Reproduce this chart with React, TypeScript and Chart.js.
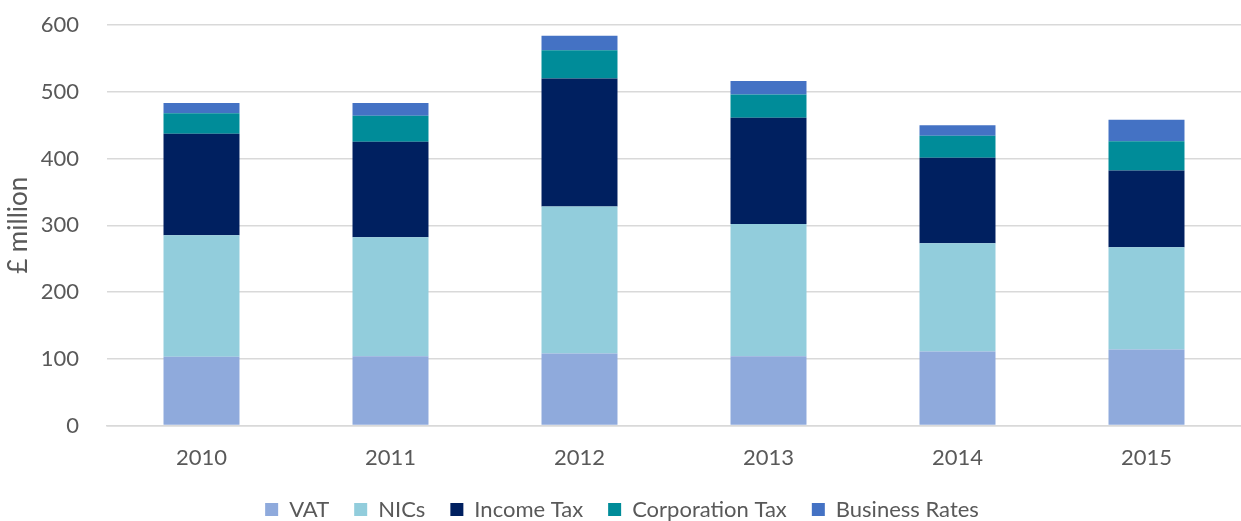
import React, { useEffect, useRef } from "react";
import { Chart, registerables } from "chart.js";

Chart.register(...registerables);

const years = ["2010", "2011", "2012", "2013", "2014", "2015"];
const vat = [103, 104, 108, 104, 111, 114];
const nics = [182, 178, 220, 198, 162, 153];
const incomeTax = [152, 143, 192, 159, 128, 115];
const corporationTax = [31, 39, 42, 35, 33, 44];
const businessRates = [15, 19, 22, 20, 16, 32];
const yTicks = [0, 100, 200, 300, 400, 500, 600];

const FONT = "Lato, 'Noto Sans', sans-serif";
const TEXT = "#595959";

const legendShift = {
  id: "legendShift",
  afterLayout(chart: any) {
    const lg = chart.legend;
    if (!lg) return;
    const h = lg.height;
    lg.top = chart.chartArea.bottom + 48;
    lg.bottom = lg.top + h;
  },
};

export default function App() {
  const ref = useRef<HTMLCanvasElement | null>(null);
  useEffect(() => {
    if (!ref.current) return;
    const chart = new Chart(ref.current, {
      type: "bar",
      data: {
        labels: years,
        datasets: [
          { label: "VAT", data: vat, backgroundColor: "#8FAADC" },
          { label: "NICs", data: nics, backgroundColor: "#92CDDC" },
          { label: "Income Tax", data: incomeTax, backgroundColor: "#002060" },
          { label: "Corporation Tax", data: corporationTax, backgroundColor: "#008C99" },
          { label: "Business Rates", data: businessRates, backgroundColor: "#4472C4" },
        ],
      },
      plugins: [legendShift],
      options: {
        animation: false,
        responsive: true,
        maintainAspectRatio: false,
        layout: { padding: { top: 25, left: 3, right: 0, bottom: -26 } },
        datasets: { bar: { categoryPercentage: 1, barPercentage: 0.402 } },
        plugins: {
          tooltip: { enabled: false },
          legend: {
            position: "bottom",
            labels: {
              boxWidth: 13,
              boxHeight: 13,
              padding: 25,
              color: TEXT,
              font: { family: FONT, size: 22 },
            },
          },
        },
        scales: {
          x: {
            stacked: true,
            grid: { display: false, drawTicks: false },
            border: { display: true, color: "#D9D9D9", width: 1.5 },
            ticks: { color: TEXT, font: { family: FONT, size: 22 }, padding: 19 },
          },
          y: {
            stacked: true,
            min: 0,
            max: 600,
            afterBuildTicks: (axis: any) => {
              axis.ticks = yTicks.map((v) => ({ value: v }));
            },
            afterFit: (axis: any) => {
              axis.width = 104;
            },
            grid: {
              color: "#D9D9D9",
              lineWidth: 1.5,
              drawTicks: true,
              tickLength: 28,
              tickColor: "rgba(0,0,0,0)",
            },
            border: { display: false },
            ticks: { color: TEXT, font: { family: FONT, size: 22 }, padding: 0 },
            title: {
              display: true,
              text: "£ million",
              color: TEXT,
              font: { family: FONT, size: 26 },
              padding: { top: 0, bottom: 10 },
            },
          },
        },
      },
    });
    return () => chart.destroy();
  }, []);
  return (
    <div style={{ position: "absolute", left: 0, top: 0, width: 1241, height: 521, background: "#fff" }}>
      <canvas ref={ref} />
    </div>
  );
}
